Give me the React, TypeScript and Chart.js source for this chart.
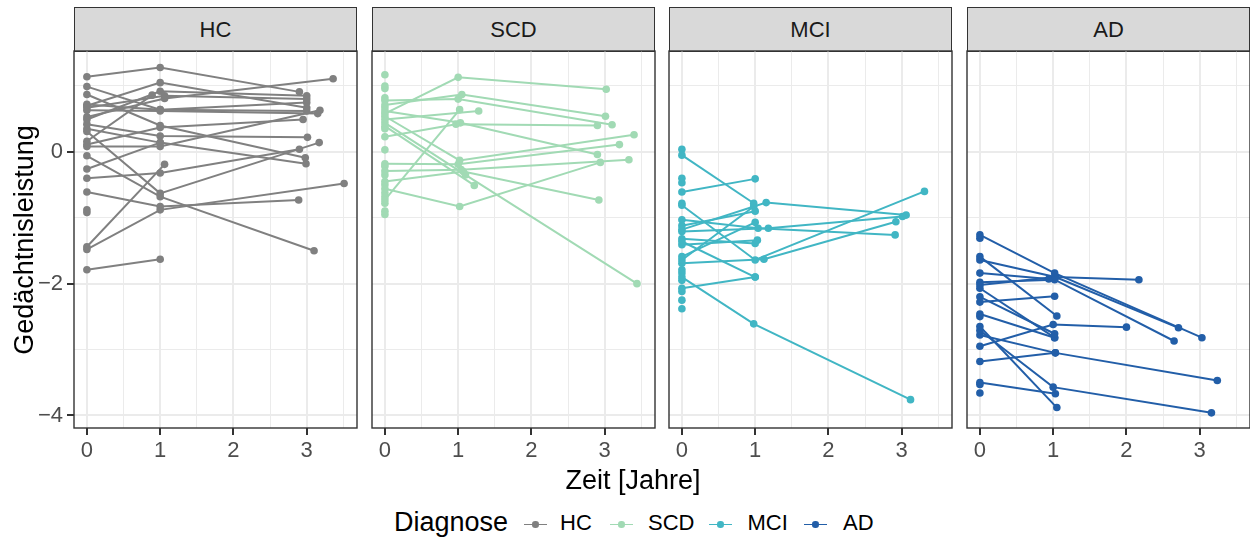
import React, { useEffect, useRef } from "react";
import { Chart, registerables } from "chart.js";

Chart.register(...registerables);

// ---------- data ----------
const groups = ["HC", "SCD", "MCI", "AD"];
const groupColors = ["#808080", "#a1dab4", "#41b6c4", "#225ea8"];
const xTickValues = [0, 1, 2, 3];
const yTickValues = [-4, -2, 0];
const xTitle = "Zeit [Jahre]";
const yTitle = "Gedächtnisleistung";
const legendTitle = "Diagnose";

// each subject: list of [time in years, score]
const hcSubjects: number[][][] = [
  [[0, 1.14], [1, 1.28], [2.9, 0.91]],
  [[0, 0.99], [1, 0.64], [3.0, 0.62]],
  [[0, 0.87], [1, 0.4], [2.98, -0.09]],
  [[0, 0.7], [1, 1.05], [3.0, 0.67]],
  [[0, 0.67], [1.06, 0.85], [3.0, 0.8]],
  [[0, 0.63], [1, 0.62], [3.15, 0.58]],
  [[0, 0.53], [1.06, 0.81], [3.36, 1.11]],
  [[0, 0.49], [1, 0.92], [3.0, 0.85]],
  [[0, 0.42], [1, 0.24], [3.01, 0.22]],
  [[0, 0.35], [1, 0.14], [2.99, -0.18]],
  [[0, 0.31], [1, -0.63], [3.17, 0.14]],
  [[0, 0.16], [0.89, 0.86]],
  [[0, 0.11], [1, 0.37], [2.95, 0.49]],
  [[0, 0.08], [1, 0.08], [3.18, 0.63]],
  [[0, -0.06], [1, -0.68], [3.1, -1.5]],
  [[0, -0.26], [1, 0.14]],
  [[0, -0.4], [1, -0.32], [2.9, 0.04]],
  [[0, -0.61], [1, -0.83], [2.89, -0.73]],
  [[0, -0.88]],
  [[0, -0.92]],
  [[0, -1.44], [1.06, -0.19]],
  [[0, -1.48], [1, -0.88], [3.51, -0.48]],
  [[0, -1.79], [1, -1.63]],
  [[0, 0.72], [1, 0.64], [3.0, 0.75]],
];

const scdSubjects: number[][][] = [
  [[0, 0.58], [1, 1.13], [3.02, 0.95]],
  [[0, 0.71], [1.05, 0.87], [3.01, 0.54]],
  [[0, 0.78], [1, 0.8], [3.1, 0.41]],
  [[0, 0.49], [1.28, 0.62]],
  [[0, -0.73], [1.02, 0.64]],
  [[0, 0.23], [0.97, 0.42], [2.9, 0.4]],
  [[0, 0.62], [1.03, 0.44], [2.9, -0.04]],
  [[0, 0.54], [1.02, -0.13], [3.4, 0.26]],
  [[0, -0.18], [1, -0.19], [3.2, 0.11]],
  [[0, -0.29], [1.04, -0.27], [3.33, -0.12]],
  [[0, -0.45], [1.07, -0.3], [2.92, -0.73]],
  [[0, 0.44], [1.1, -0.35], [3.44, -2.0]],
  [[0, 0.39], [1.22, -0.51]],
  [[0, -0.56], [1.02, -0.83], [2.94, -0.16]],
  [[0, 1.17]],
  [[0, 1.0]],
  [[0, 0.96]],
  [[0, 0.82]],
  [[0, 0.67]],
  [[0, 0.35]],
  [[0, 0.03]],
  [[0, -0.22]],
  [[0, -0.35]],
  [[0, -0.5]],
  [[0, -0.62]],
  [[0, -0.68]],
  [[0, -0.78]],
  [[0, -0.9]],
  [[0, -0.95]],
];

const mciSubjects: number[][][] = [
  [[0, -0.05], [0.98, -0.78]],
  [[0, -0.61], [1, -0.41]],
  [[0, -0.81], [1, -1.64], [3.31, -0.6]],
  [[0, -1.03], [1.04, -1.16], [2.91, -1.26]],
  [[0, -1.18], [1.15, -0.77], [3.06, -0.96]],
  [[0, -1.21], [1.18, -1.16], [3.01, -0.98]],
  [[0, -1.36], [1, -1.9]],
  [[0, -1.41], [1.03, -1.34]],
  [[0, -1.59], [1, -1.07]],
  [[0, -1.64], [0.98, -0.83]],
  [[0, -1.9], [0.98, -2.61], [3.12, -3.76]],
  [[0, -2.07], [1, -1.9]],
  [[0, -1.32], [1, -1.39]],
  [[0, -1.69], [1.12, -1.63], [2.92, -1.06]],
  [[0, -1.12], [1, -0.9]],
  [[0, 0.04]],
  [[0, -0.4]],
  [[0, -0.47]],
  [[0, -0.78]],
  [[0, -1.79]],
  [[0, -1.84]],
  [[0, -1.95]],
  [[0, -2.12]],
  [[0, -2.25]],
  [[0, -2.38]],
];

const adSubjects: number[][][] = [
  [[0, -1.26], [1.02, -1.84], [3.03, -2.82]],
  [[0, -1.31]],
  [[0, -1.59], [1.05, -2.49]],
  [[0, -1.64], [1.03, -1.9], [2.71, -2.67]],
  [[0, -1.84], [0.94, -1.93]],
  [[0, -2.02], [1.03, -1.9], [2.17, -1.94]],
  [[0, -1.98], [1.02, -1.94], [2.65, -2.87]],
  [[0, -2.2], [1.02, -2.76]],
  [[0, -2.28], [1.02, -2.19]],
  [[0, -2.46], [1.02, -2.82]],
  [[0, -2.65], [1.05, -3.88]],
  [[0, -2.71], [1, -3.57], [3.16, -3.96]],
  [[0, -2.78], [1.03, -3.05], [3.24, -3.47]],
  [[0, -2.95], [1, -2.62], [2.0, -2.66]],
  [[0, -3.18], [1.03, -3.05]],
  [[0, -3.5], [1.03, -3.67]],
  [[0, -3.66]],
  [[0, -2.07], [1.02, -2.82]],
  [[0, -2.5]],
  [[0, -3.53]],
];

const groupSubjects = [hcSubjects, scdSubjects, mciSubjects, adSubjects];

// ---------- layout ----------
const FONT = "'Liberation Sans', Arial, Helvetica, sans-serif";
const X_MIN = -0.176;
const X_MAX = 3.686;
const Y_MIN = -4.19;
const Y_MAX = 1.53;
const PANEL_LEFTS = [74, 372, 669, 967];
const PANEL_W = 283;
const PANEL_TOP = 51;
const PANEL_H = 377;
const X_AXIS_H = 45;
const PAD = 2;
const Y_AXIS_W = 72;

const fmt = (v: number) => (v < 0 ? "\u2212" + Math.abs(v) : String(v));

const borderPlugin = {
  id: "panelBorder",
  afterDraw(chart: any) {
    const { ctx, chartArea } = chart;
    ctx.save();
    ctx.strokeStyle = "#333333";
    ctx.lineWidth = 1.4;
    ctx.strokeRect(chartArea.left, chartArea.top, chartArea.right - chartArea.left, chartArea.bottom - chartArea.top);
    ctx.restore();
  },
};

function Panel({ index }: { index: number }) {
  const ref = useRef<HTMLCanvasElement | null>(null);
  const showY = index === 0;
  const yW = showY ? Y_AXIS_W : 0;
  const cw = PAD + yW + PANEL_W + PAD;
  const ch = PAD + PANEL_H + X_AXIS_H;
  const left = showY ? 0 : PANEL_LEFTS[index] - PAD;
  const top = PANEL_TOP - PAD;

  useEffect(() => {
    if (!ref.current) return;
    const color = groupColors[index];
    const datasets = groupSubjects[index].map((s) => ({
      data: s.map((p) => ({ x: p[0], y: p[1] })),
      showLine: true,
      borderColor: color,
      backgroundColor: color,
      borderWidth: 2,
      pointRadius: 3.8,
      pointBorderWidth: 0,
      pointBackgroundColor: color,
      pointHoverRadius: 3.8,
    }));
    const isMajorX = (v: number) => xTickValues.includes(v);
    const isMajorY = (v: number) => Number.isInteger(v) && v % 2 === 0;
    const chart = new Chart(ref.current, {
      type: "scatter",
      data: { datasets },
      plugins: [borderPlugin],
      options: {
        animation: false,
        responsive: false,
        devicePixelRatio: 1,
        layout: { autoPadding: false, padding: { left: PAD, right: PAD, top: PAD, bottom: 0 } },
        plugins: { legend: { display: false }, tooltip: { enabled: false } },
        events: [],
        scales: {
          x: {
            type: "linear",
            min: X_MIN,
            max: X_MAX,
            afterFit: (s: any) => {
              s.height = X_AXIS_H;
              s.paddingLeft = 0;
              s.paddingRight = 0;
              s.paddingTop = 0;
              s.paddingBottom = 0;
            },
            border: { display: false },
            grid: {
              color: "#ebebeb",
              lineWidth: (c: any) => (isMajorX(c.tick?.value) ? 2 : 1),
              drawTicks: true,
              tickLength: 7,
              tickWidth: 2,
              tickColor: (c: any) => (isMajorX(c.tick?.value) ? "#333333" : "rgba(0,0,0,0)"),
            },
            ticks: {
              stepSize: 0.5,
              includeBounds: false,
              autoSkip: false,
              maxRotation: 0,
              padding: 3,
              color: "#4d4d4d",
              font: { family: FONT, size: 22 },
              callback: (v: any) => (isMajorX(Number(v)) ? fmt(Number(v)) : ""),
            },
          },
          y: {
            type: "linear",
            min: Y_MIN,
            max: Y_MAX,
            afterFit: (s: any) => {
              s.width = yW;
              s.paddingLeft = 0;
              s.paddingRight = 0;
              s.paddingTop = 0;
              s.paddingBottom = 0;
            },
            border: { display: false },
            grid: {
              color: "#ebebeb",
              lineWidth: (c: any) => (isMajorY(c.tick?.value) ? 2 : 1),
              drawTicks: showY,
              tickLength: 7,
              tickWidth: 2,
              tickColor: (c: any) => (isMajorY(c.tick?.value) ? "#333333" : "rgba(0,0,0,0)"),
            },
            ticks: {
              display: showY,
              stepSize: 1,
              includeBounds: false,
              autoSkip: false,
              padding: 4,
              color: "#4d4d4d",
              font: { family: FONT, size: 22 },
              callback: (v: any) => (yTickValues.includes(Number(v)) ? fmt(Number(v)) : ""),
            },
          },
        },
      } as any,
    });
    return () => chart.destroy();
  }, [index]);

  return (
    <canvas
      ref={ref}
      width={cw}
      height={ch}
      style={{ position: "absolute", left, top, width: cw, height: ch }}
    />
  );
}

function Strip({ index }: { index: number }) {
  return (
    <div
      style={{
        position: "absolute",
        left: PANEL_LEFTS[index],
        top: 7,
        width: PANEL_W,
        height: 45,
        boxSizing: "border-box",
        border: "1.4px solid #333333",
        background: "#d9d9d9",
        color: "#1a1a1a",
        fontFamily: FONT,
        fontSize: 22,
        display: "flex",
        alignItems: "center",
        justifyContent: "center",
      }}
    >
      {groups[index]}
    </div>
  );
}

const legendKeyLefts = [524, 610, 709, 804];
const legendLabelLefts = [560, 648, 747.5, 843];

export default function App() {
  return (
    <div
      style={{
        position: "absolute",
        left: 0,
        top: 0,
        width: 1250,
        height: 540,
        background: "#ffffff",
        overflow: "hidden",
        fontFamily: FONT,
      }}
    >
      {groups.map((g, i) => (
        <Strip key={"s" + g} index={i} />
      ))}
      {groups.map((g, i) => (
        <Panel key={"p" + g} index={i} />
      ))}
      <div
        style={{
          position: "absolute",
          left: 24 - 200,
          top: 240 - 15,
          width: 400,
          height: 30,
          lineHeight: "30px",
          textAlign: "center",
          fontSize: 27,
          color: "#000",
          transform: "rotate(-90deg)",
          whiteSpace: "nowrap",
        }}
      >
        {yTitle}
      </div>
      <div
        style={{
          position: "absolute",
          left: 633 - 200,
          top: 465,
          width: 400,
          height: 30,
          lineHeight: "30px",
          textAlign: "center",
          fontSize: 27,
          color: "#000",
          whiteSpace: "nowrap",
        }}
      >
        {xTitle}
      </div>
      <div
        style={{
          position: "absolute",
          left: 394,
          top: 507,
          height: 30,
          lineHeight: "30px",
          fontSize: 27,
          color: "#000",
          whiteSpace: "nowrap",
        }}
      >
        {legendTitle}
      </div>
      {groups.map((g, i) => (
        <React.Fragment key={"l" + g}>
          <div
            style={{
              position: "absolute",
              left: legendKeyLefts[i],
              top: 523.5,
              width: 23,
              height: 1.8,
              background: groupColors[i],
            }}
          />
          <div
            style={{
              position: "absolute",
              left: legendKeyLefts[i] + 11.5 - 3.2,
              top: 524.4 - 3.2,
              width: 6.4,
              height: 6.4,
              borderRadius: "50%",
              background: groupColors[i],
            }}
          />
          <div
            style={{
              position: "absolute",
              left: legendLabelLefts[i],
              top: 510.4,
              height: 26,
              lineHeight: "26px",
              fontSize: 22,
              color: "#000",
              whiteSpace: "nowrap",
            }}
          >
            {g}
          </div>
        </React.Fragment>
      ))}
    </div>
  );
}
